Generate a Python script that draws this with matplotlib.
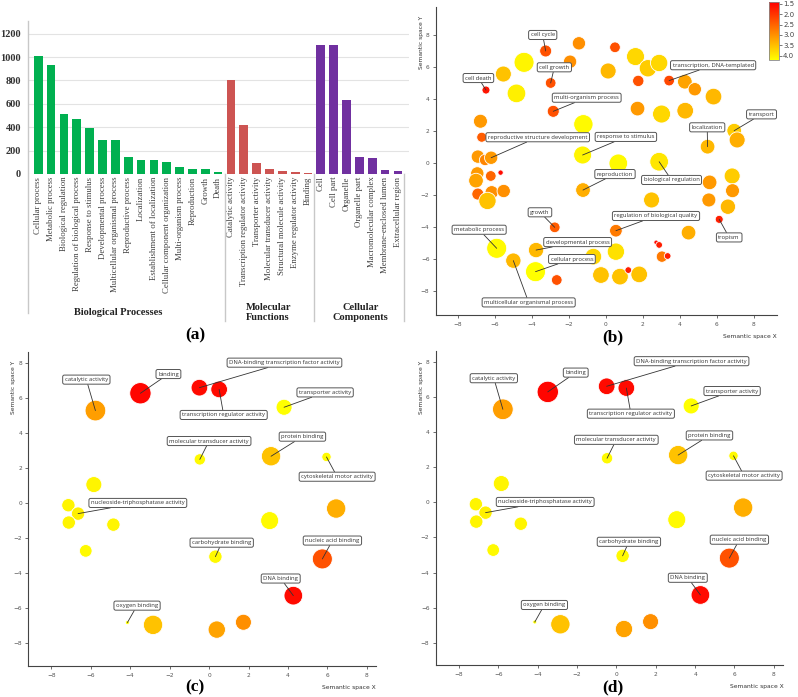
import matplotlib
matplotlib.use("Agg")
import matplotlib.pyplot as plt
from matplotlib.colors import LinearSegmentedColormap, Normalize
import matplotlib.transforms as mtransforms

# ---- panel (a): GO category counts ----
bp_terms = ["Cellular process", "Metabolic process", "Biological regulation",
            "Regulation of biological process", "Response to stimulus",
            "Developmental process", "Multicellular organismal process",
            "Reproductive process", "Localization", "Establishment of localization",
            "Cellular component organization", "Multi-organism process",
            "Reproduction", "Growth", "Death"]
bp_counts = [1006, 931, 511, 471, 394, 287, 287, 149, 123, 123, 103, 63, 46, 40, 20]

mf_terms = ["Catalytic activity", "Transcription regulator activity",
            "Transporter activity", "Molecular transducer activity",
            "Structural molecule activity", "Enzyme regulator activity", "Binding"]
mf_counts = [800, 420, 97, 40, 26, 20, 8]

cc_terms = ["Cell", "Cell part", "Organelle", "Organelle part",
            "Macromolecular complex", "Membrane-enclosed lumen", "Extracellular region"]
cc_counts = [1106, 1106, 629, 149, 137, 37, 26]

group_names = ["Biological Processes", "Molecular\nFunctions", "Cellular\nComponents"]

# ---- panel (b): REVIGO biological process bubbles ----
b_x = [-3.25, -1.93, -1.45, -4.42, -5.54, -2.98, -6.48, -4.83, -2.84, 0.13,
       0.50, 1.61, 2.28, 2.89, 1.76, 3.43, 4.28, 4.82, 5.83, 1.72,
       3.02, 4.30, 6.95, 7.11, 5.51, -6.78, -6.71, -1.25, -1.21, -6.92,
       -6.53, -6.20, 0.68, 2.89, -6.95, -7.02, -6.22, -5.69, -6.92, -6.17,
       -5.52, -6.40, -1.23, 5.62, 6.84, 6.86, 5.58, 6.61, 2.48, 6.14,
       -2.76, 0.55, 4.48, -5.90, -5.00, -3.77, -3.80, -2.65, -0.67, 0.55,
       -0.26, 0.77, 1.81, 1.22, 2.73, 2.89, 3.04, 3.35]
b_y = [7.02, 6.35, 7.50, 6.31, 5.58, 5.02, 4.58, 4.37, 3.25, 5.77,
       7.25, 6.67, 5.94, 6.27, 5.15, 5.17, 5.10, 4.63, 4.17, 3.42,
       3.08, 3.29, 2.04, 1.46, 1.04, 2.63, 1.63, 0.52, 2.44, 0.42,
       0.21, 0.35, 0.00, 0.10, -0.63, -1.08, -0.79, -0.58, -1.92, -1.81,
       -1.73, -2.35, -1.67, -1.19, -0.79, -1.71, -2.29, -2.71, -2.29, -3.50,
       -4.00, -4.21, -4.33, -5.31, -6.08, -5.42, -6.77, -7.29, -5.83, -5.52,
       -6.98, -7.08, -6.94, -6.67, -4.94, -5.10, -5.83, -5.79]
b_size = [18, 20, 20, 30, 24, 16, 12, 28, 18, 24,
          16, 27, 26, 26, 17, 16, 22, 20, 25, 22,
          27, 25, 22, 24, 22, 21, 15, 27, 29, 20,
          17, 20, 28, 28, 20, 22, 16, 8, 18, 20,
          20, 26, 22, 22, 24, 21, 21, 23, 24, 12,
          16, 19, 22, 30, 23, 23, 30, 16, 25, 26,
          25, 25, 25, 10, 7, 10, 17, 10]
b_value = [2.3, 2.9, 2.9, 3.9, 3.4, 2.3, 1.7, 3.85, 2.3, 3.3,
           2.3, 3.6, 3.5, 3.6, 2.3, 2.2, 3.1, 3.0, 3.3, 3.0,
           3.6, 3.3, 3.5, 3.2, 3.3, 3.0, 2.4, 3.9, 3.95, 3.0,
           2.8, 3.0, 3.95, 3.75, 3.0, 3.1, 2.5, 1.6, 2.5, 2.9,
           2.9, 3.4, 3.2, 3.0, 3.5, 3.0, 3.0, 3.3, 3.4, 1.8,
           2.4, 2.7, 3.2, 3.95, 3.3, 3.3, 4.0, 2.3, 3.6, 3.7,
           3.4, 3.4, 3.4, 1.8, 1.6, 1.8, 2.7, 1.8]

b_labels = ["cell cycle", "cell growth", "cell death", "multi-organism process",
            "transcription, DNA-templated", "transport", "localization",
            "reproductive structure development", "response to stimulus",
            "reproduction", "biological regulation", "growth",
            "regulation of biological quality", "tropism", "metabolic process",
            "developmental process", "cellular process",
            "multicellular organismal process"]
b_label_point = [(-3.25, 7.02), (-2.98, 5.02), (-6.48, 4.58), (-2.84, 3.25),
                 (3.43, 5.17), (6.95, 2.04), (5.51, 1.04), (-6.20, 0.35),
                 (-1.25, 0.52), (-1.23, -1.67), (2.89, 0.10), (-2.76, -4.00),
                 (0.55, -4.21), (6.14, -3.50), (-5.90, -5.31), (-3.77, -5.42),
                 (-3.80, -6.77), (-5.00, -6.08)]
b_label_box = [(-3.41, 8.02), (-2.78, 6.00), (-6.89, 5.33), (-1.03, 4.10),
               (5.81, 6.13), (8.43, 3.06), (5.49, 2.25), (-3.68, 1.63),
               (1.09, 1.65), (0.50, -0.67), (3.56, -1.04), (-3.56, -3.06),
               (2.72, -3.29), (6.68, -4.63), (-6.85, -4.15), (-1.52, -4.92),
               (-1.83, -5.98), (-4.17, -8.69)]

# ---- panels (c) and (d): REVIGO molecular function bubbles ----
c_x = [-3.48, -0.49, 0.51, -5.76, 3.80, -0.47, 3.14, 5.95, -5.84, -7.13,
       -6.64, -7.11, -4.85, -6.25, 3.07, 6.44, 0.32, 5.74, 4.27, -4.14,
       -2.84, 0.39, 1.74]
c_y = [6.29, 6.61, 6.51, 5.30, 5.49, 2.51, 2.69, 2.65, 1.07, -0.11,
       -0.59, -1.10, -1.22, -2.72, -0.99, -0.30, -3.05, -3.18, -5.28, -6.82,
       -6.95, -7.22, -6.80]
c_size = [32, 25, 25, 31, 24, 17, 29, 14, 24, 20,
          20, 20, 20, 19, 27, 29, 20, 30, 28, 6,
          29, 26, 24]
c_value = [1.55, 1.6, 1.6, 3.05, 4.0, 3.95, 3.4, 3.95, 3.9, 3.9,
           3.85, 3.9, 3.9, 3.95, 3.95, 3.2, 3.95, 2.3, 1.6, 4.0,
           3.4, 3.1, 2.9]

c_labels = ["catalytic activity", "binding", "DNA-binding transcription factor activity",
            "transcription regulator activity", "transporter activity",
            "molecular transducer activity", "protein binding",
            "cytoskeletal motor activity", "nucleoside-triphosphatase activity",
            "carbohydrate binding", "nucleic acid binding", "DNA binding",
            "oxygen binding"]
c_label_point = [(-5.76, 5.30), (-3.48, 6.29), (-0.49, 6.61), (0.51, 6.51),
                 (3.80, 5.49), (-0.47, 2.51), (3.14, 2.69), (5.95, 2.65),
                 (-6.64, -0.59), (0.32, -3.05), (5.74, -3.18), (4.27, -5.28),
                 (-4.14, -6.82)]
c_label_box = [(-6.22, 7.07), (-2.06, 7.39), (3.82, 8.04), (0.74, 5.05),
               (5.88, 6.34), (0.00, 3.56), (4.73, 3.81), (6.49, 1.52),
               (-3.61, 0.02), (0.64, -2.25), (6.25, -2.13), (3.63, -4.30),
               (-3.65, -5.85)]

cbar_ticks = [1.5, 2.0, 2.5, 3.0, 3.5, 4.0]

# ------------------------------------------------------------------
fig = plt.figure(figsize=(7.98, 6.97), dpi=100)
serif = ["Liberation Serif", "DejaVu Serif"]

# panel (a)
ax = fig.add_axes([0.0351, 0.7504, 0.478, 0.2196])
terms = bp_terms + mf_terms + cc_terms
counts = bp_counts + mf_counts + cc_counts
colors = ["#00b050"] * len(bp_terms) + ["#cd5452"] * len(mf_terms) + ["#7030a0"] * len(cc_terms)
pos = list(range(len(terms)))
ax.bar(pos, counts, width=0.68, color=colors, zorder=3)
ax.set_xlim(-0.8, 28.9)
ax.set_ylim(0, 1310)
ax.set_yticks(range(0, 1201, 200))
ax.set_yticklabels([str(v) for v in range(0, 1201, 200)], fontfamily=serif,
                   fontweight="bold", fontsize=7.5, color="#333333")
ax.set_xticks(pos)
ax.set_xticklabels(terms, rotation=90, fontfamily=serif, fontsize=6.3, color="#404040")
ax.tick_params(length=0, pad=2)
ax.tick_params(axis="y", pad=5)
ax.grid(axis="y", color="#e3e3e3", lw=0.8, zorder=0)
for s in ["top", "right", "bottom", "left"]:
    ax.spines[s].set_visible(False)
tr = mtransforms.blended_transform_factory(ax.transData, ax.transAxes)
ax.plot([-0.8, -0.8], [1.0, -0.91], transform=tr, color="#c8c8c8", lw=1, clip_on=False)
for xs in [14.5, 21.5, 28.5]:
    ax.plot([xs, xs], [0, -0.96], transform=tr, color="#c8c8c8", lw=1, clip_on=False)
for gx, name in zip([6.2, 17.9, 25.1], group_names):
    ax.text(gx, -0.905, name, transform=tr, ha="center", va="center",
            fontfamily=serif, fontweight="bold", fontsize=7.5, color="#222222",
            linespacing=1.25)

cmap = LinearSegmentedColormap.from_list("revigo", ["#ff0000", "#ff8000", "#ffff00"])
norm = Normalize(vmin=1.5, vmax=4.0)


def revigo_panel(rect, xs, ys, sizes, values, labels, pts, boxes, xlim, ylim):
    a = fig.add_axes(rect)
    a.scatter(xs, ys, s=[(0.48 * r) ** 2 for r in sizes], c=values, cmap=cmap,
              norm=norm, edgecolors="white", linewidths=0.6, zorder=3)
    for lab, p, b in zip(labels, pts, boxes):
        a.annotate(lab, xy=p, xytext=b, textcoords="data", ha="center", va="center",
                   fontsize=4.2, color="#333333", fontfamily="Open Sans", zorder=5,
                   bbox=dict(boxstyle="round,pad=0.35,rounding_size=0.3", fc="white",
                             ec="#555555", lw=0.7),
                   arrowprops=dict(arrowstyle="-", color="#333333", lw=0.6,
                                   shrinkA=0, shrinkB=0))
    a.set_xlim(*xlim)
    a.set_ylim(*ylim)
    a.set_xticks(range(-8, 9, 2))
    a.set_yticks(range(-8, 9, 2))
    a.tick_params(labelsize=4.2, colors="#555555", length=2.5, width=0.6, pad=2)
    a.tick_params(axis="x", pad=2.5)
    for s in ["top", "right"]:
        a.spines[s].set_visible(False)
    for s in ["left", "bottom"]:
        a.spines[s].set_color("#444444")
        a.spines[s].set_linewidth(0.8)
    a.text(-0.035, 0.97, "Semantic space Y", transform=a.transAxes, rotation=90,
           ha="right", va="top", fontsize=4.3, color="#333333")
    a.text(1.0, -0.06, "Semantic space X", transform=a.transAxes,
           ha="right", va="top", fontsize=4.3, color="#333333")
    return a


revigo_panel([0.546, 0.548, 0.4273, 0.442], b_x, b_y, b_size, b_value,
             b_labels, b_label_point, b_label_box, (-9.2, 9.25), (-9.48, 9.77))
revigo_panel([0.0355, 0.0445, 0.4357, 0.451], c_x, c_y, c_size, c_value,
             c_labels, c_label_point, c_label_box, (-9.16, 8.46), (-9.3, 8.67))
revigo_panel([0.546, 0.0459, 0.4356, 0.4505], c_x, c_y, c_size, c_value,
             c_labels, c_label_point, c_label_box, (-9.17, 8.48), (-9.27, 8.62))

# colour bar of panel (b)
cax = fig.add_axes([0.9637, 0.914, 0.0125, 0.083])
sm = plt.cm.ScalarMappable(cmap=cmap, norm=Normalize(vmin=1.42, vmax=4.2))
cb = fig.colorbar(sm, cax=cax, ticks=cbar_ticks)
cax.invert_yaxis()
cb.ax.set_yticklabels(["1.5", "2.0", "2.5", "3.0", "3.5", "4.0"])
cb.ax.tick_params(labelsize=5, length=2, width=0.5, colors="#444444", pad=1)
cb.outline.set_edgecolor("#888888")
cb.outline.set_linewidth(0.6)

for lx, ly, txt in [(0.2444, 0.519, "(a)"), (0.768, 0.516, "(b)"),
                    (0.2444, 0.0140, "(c)"), (0.768, 0.0135, "(d)")]:
    fig.text(lx, ly, txt, ha="center", va="center", fontfamily=serif,
             fontweight="bold", fontsize=12.5)

fig.savefig("out.png", dpi=100)
